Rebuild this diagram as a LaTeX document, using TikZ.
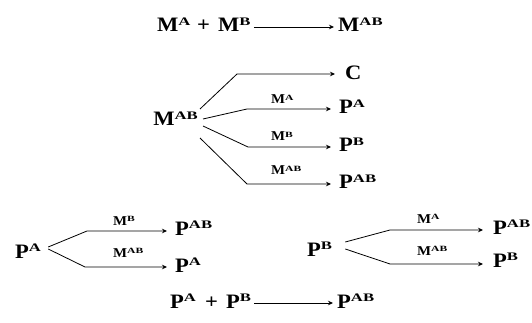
\documentclass[tikz,border=0pt]{standalone}
\usepackage{fontspec}
\setmainfont{Liberation Serif}[FakeStretch=1.1]
\newfontfamily\supfont{Liberation Serif}[FakeStretch=1.45]
\usetikzlibrary{arrows.meta}
\newcommand\hs[1]{\raisebox{6.2pt}{\fontsize{11.5}{11.5}\supfont\bfseries #1}}
\newcommand\ls[1]{\raisebox{3.6pt}{\fontsize{8}{8}\supfont\bfseries #1}}
\tikzset{
  big/.style={inner sep=0pt, font=\fontsize{20.5}{20.5}\selectfont\bfseries, anchor=base west},
  lab/.style={inner sep=0pt, font=\fontsize{13.5}{13.5}\selectfont\bfseries, anchor=base west},
  ln/.style={line width=0.8pt, -{Stealth[length=5pt,width=4.5pt]}}
}
\begin{document}
\begin{tikzpicture}[x=1pt,y=-1pt]
\useasboundingbox (0,0) rectangle (532,323);
% row 1
\node[big] (ma1) at (157,32) {M\hs{A}};
\node[big] (plus1) at (197,32) {+};
\node[big] (mb1) at (218,32) {M\hs{B}};
\node[big] (mab1) at (338,32) {M\hs{AB}};
\draw[ln] ([shift={(3,-5)}]mb1.base east) -- ([shift={(-4,-5)}]mab1.base west);
% middle fan
\node[big, anchor=base east] (m2) at (198,126) {M\hs{AB}};
\node[big] (c) at (345,80) {C};
\node[big] (pa) at (339,114) {P\hs{A}};
\node[big] (pb) at (339,152) {P\hs{B}};
\node[big] (pab) at (339,189) {P\hs{AB}};
\coordinate (tc) at ([shift={(-10,-6)}]c.base west);
\coordinate (tpa) at ([shift={(-8,-5)}]pa.base west);
\coordinate (tpb) at ([shift={(-8,-5)}]pb.base west);
\coordinate (tpab) at ([shift={(-8,-5)}]pab.base west);
\draw[ln] ([shift={(2,-17)}]m2.base east) -- ([xshift=-98]tc) -- (tc);
\draw[ln] ([shift={(5,-7)}]m2.base east) -- ([xshift=-84]tpa) -- (tpa);
\draw[ln] ([shift={(5,0)}]m2.base east) -- ([xshift=-83]tpb) -- (tpb);
\draw[ln] ([shift={(2,12)}]m2.base east) -- ([xshift=-84]tpab) -- (tpab);
\node[lab] (l1) at (271,104) {M\ls{A}};
\node[lab] (l2) at (271,141) {M\ls{B}};
\node[lab] (l3) at (271,175) {M\ls{AB}};
% bottom-left group
\node[big] (pa3) at (15,258) {P\hs{A}};
\node[big] (pab3) at (175,235) {P\hs{AB}};
\node[big] (pa3b) at (175,272) {P\hs{A}};
\coordinate (t3a) at ([shift={(-8,-4)}]pab3.base west);
\coordinate (t3b) at ([shift={(-8,-5)}]pa3b.base west);
\draw[ln] ([shift={(7,-11)}]pa3.base east) -- ([xshift=-80]t3a) -- (t3a);
\draw[ln] ([shift={(7,-9)}]pa3.base east) -- ([xshift=-82]t3b) -- (t3b);
\node[lab] (l4) at (113,225) {M\ls{B}};
\node[lab] (l5) at (113,257) {M\ls{AB}};
% bottom-right group
\node[big] (pb4) at (307,256) {P\hs{B}};
\node[big] (pab4) at (493,234) {P\hs{AB}};
\node[big] (pb4b) at (493,267) {P\hs{B}};
\coordinate (t4a) at ([shift={(-10,-4)}]pab4.base west);
\coordinate (t4b) at ([shift={(-10,-3)}]pb4b.base west);
\draw[ln] ([shift={(13,-14)}]pb4.base east) -- ([xshift=-93]t4a) -- (t4a);
\draw[ln] ([shift={(13,-7)}]pb4.base east) -- ([xshift=-93]t4b) -- (t4b);
\node[lab] (l6) at (417,223) {M\ls{A}};
\node[lab] (l7) at (417,255) {M\ls{AB}};
% bottom row
\node[big] (pa5) at (170,308) {P\hs{A}};
\node[big] (plus5) at (205,308) {+};
\node[big] (pb5) at (226,308) {P\hs{B}};
\node[big] (pab5) at (337,308) {P\hs{AB}};
\draw[ln] ([shift={(3,-5)}]pb5.base east) -- ([shift={(-4,-5)}]pab5.base west);
\end{tikzpicture}
\end{document}
